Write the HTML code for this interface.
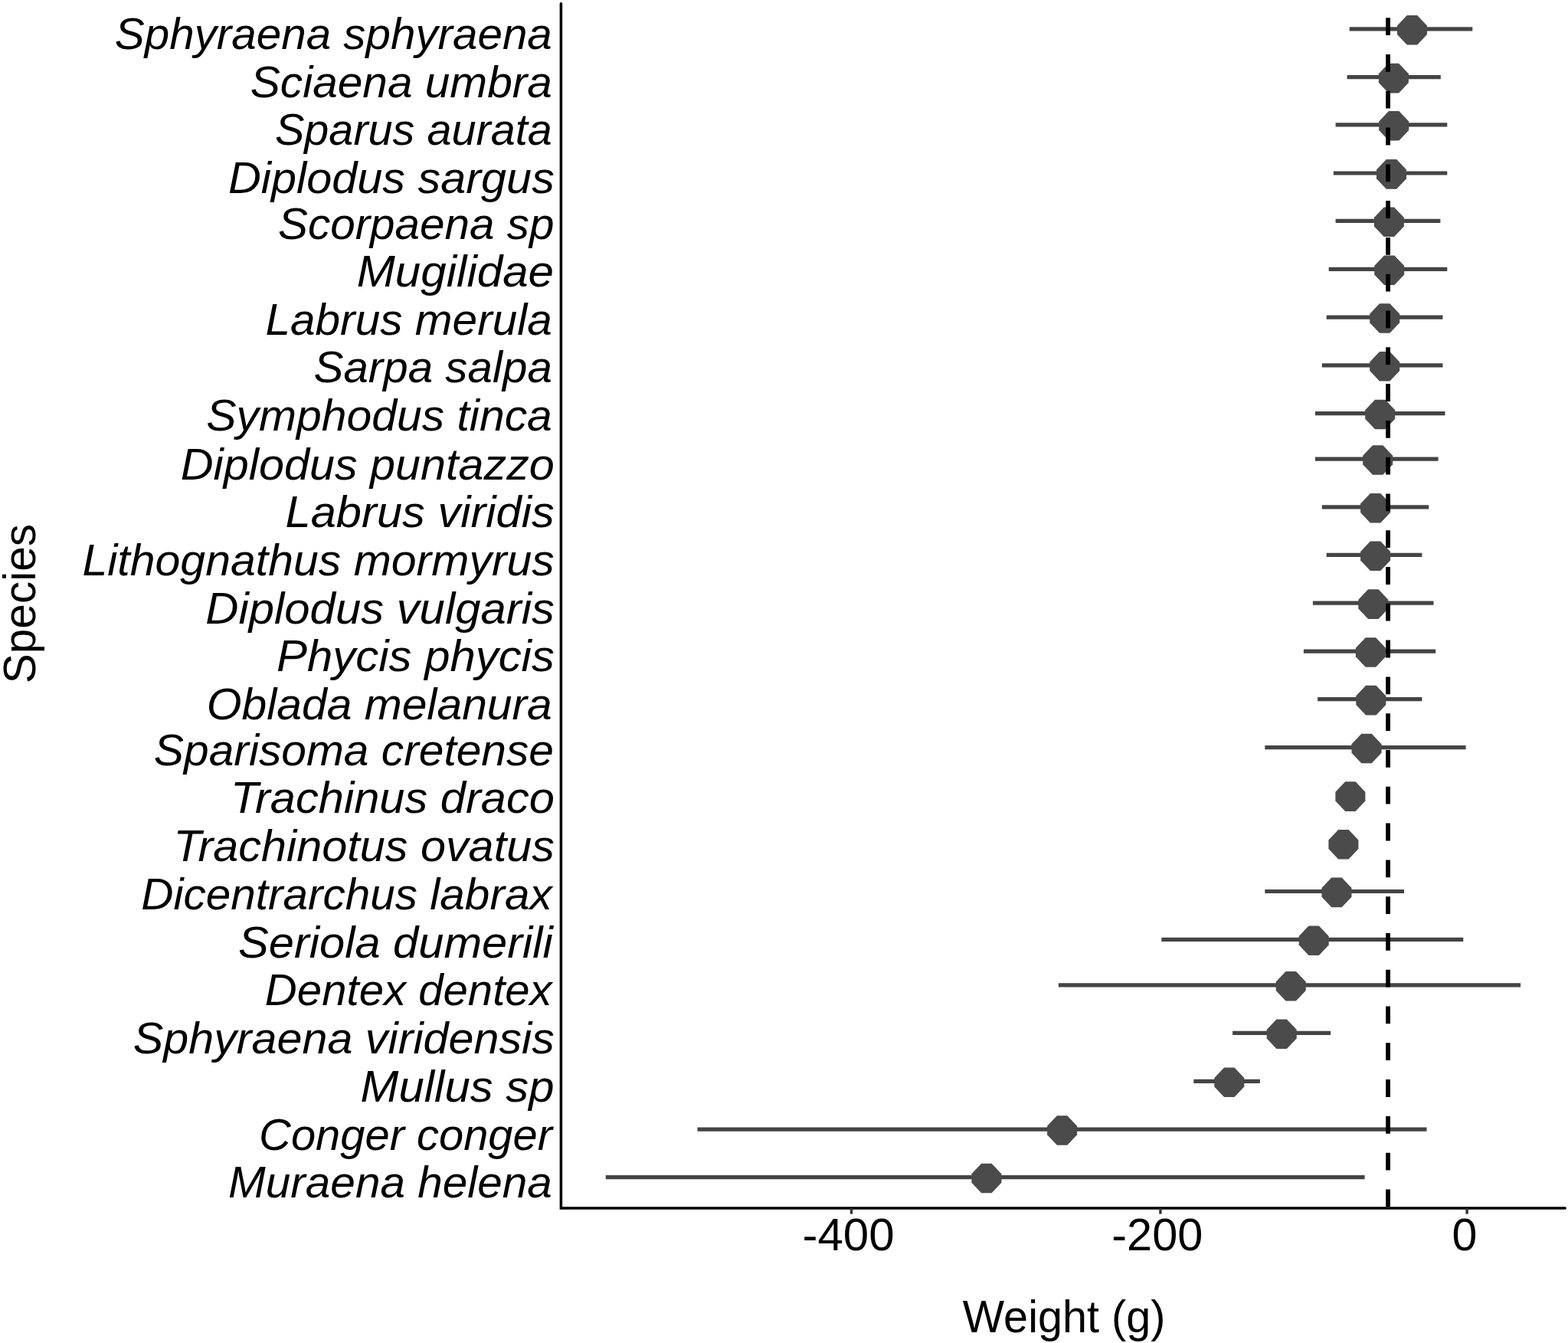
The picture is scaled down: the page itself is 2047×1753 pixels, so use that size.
<!DOCTYPE html><html><head><meta charset="utf-8"><title>Weight by species</title><style>html,body{margin:0;padding:0;background:#fff;overflow:hidden;}svg{display:block;}.lab{font-family:"Liberation Sans",Arial,sans-serif;font-style:italic;font-size:57.60px;fill:#000;}.ax{font-family:"Liberation Sans",Arial,sans-serif;font-size:58.50px;fill:#000;}</style></head><body>
<svg width="2047" height="1753" viewBox="0 0 2047 1753">
<rect width="2047" height="1753" fill="#fff"/>
<text id="lab0" class="lab" x="720.83" y="64" text-anchor="end" textLength="570.99" lengthAdjust="spacingAndGlyphs">Sphyraena sphyraena</text>
<text id="lab1" class="lab" x="720.83" y="126.8" text-anchor="end" textLength="394.05" lengthAdjust="spacingAndGlyphs">Sciaena umbra</text>
<text id="lab2" class="lab" x="720.80" y="189.3" text-anchor="end" textLength="361.90" lengthAdjust="spacingAndGlyphs">Sparus aurata</text>
<text id="lab3" class="lab" x="723.86" y="251.7" text-anchor="end" textLength="425.91" lengthAdjust="spacingAndGlyphs">Diplodus sargus</text>
<text id="lab4" class="lab" x="723.53" y="311.7" text-anchor="end" textLength="360.56" lengthAdjust="spacingAndGlyphs">Scorpaena sp</text>
<text id="lab5" class="lab" x="723.09" y="374.4" text-anchor="end" textLength="257.39" lengthAdjust="spacingAndGlyphs">Mugilidae</text>
<text id="lab6" class="lab" x="720.83" y="437.1" text-anchor="end" textLength="374.43" lengthAdjust="spacingAndGlyphs">Labrus merula</text>
<text id="lab7" class="lab" x="720.83" y="499.4" text-anchor="end" textLength="311.33" lengthAdjust="spacingAndGlyphs">Sarpa salpa</text>
<text id="lab8" class="lab" x="720.84" y="561.7" text-anchor="end" textLength="451.58" lengthAdjust="spacingAndGlyphs">Symphodus tinca</text>
<text id="lab9" class="lab" x="723.86" y="625.5" text-anchor="end" textLength="488.08" lengthAdjust="spacingAndGlyphs">Diplodus puntazzo</text>
<text id="lab10" class="lab" x="723.87" y="687.8" text-anchor="end" textLength="351.35" lengthAdjust="spacingAndGlyphs">Labrus viridis</text>
<text id="lab11" class="lab" x="723.85" y="750.8" text-anchor="end" textLength="616.40" lengthAdjust="spacingAndGlyphs">Lithognathus mormyrus</text>
<text id="lab12" class="lab" x="723.88" y="813.5" text-anchor="end" textLength="455.60" lengthAdjust="spacingAndGlyphs">Diplodus vulgaris</text>
<text id="lab13" class="lab" x="723.88" y="876.1" text-anchor="end" textLength="362.75" lengthAdjust="spacingAndGlyphs">Phycis phycis</text>
<text id="lab14" class="lab" x="720.84" y="939.3" text-anchor="end" textLength="451.13" lengthAdjust="spacingAndGlyphs">Oblada melanura</text>
<text id="lab15" class="lab" x="723.04" y="998.7" text-anchor="end" textLength="522.17" lengthAdjust="spacingAndGlyphs">Sparisoma cretense</text>
<text id="lab16" class="lab" x="723.87" y="1061.3" text-anchor="end" textLength="422.84" lengthAdjust="spacingAndGlyphs">Trachinus draco</text>
<text id="lab17" class="lab" x="723.86" y="1124" text-anchor="end" textLength="497.25" lengthAdjust="spacingAndGlyphs">Trachinotus ovatus</text>
<text id="lab18" class="lab" x="720.68" y="1186.6" text-anchor="end" textLength="536.49" lengthAdjust="spacingAndGlyphs">Dicentrarchus labrax</text>
<text id="lab19" class="lab" x="721.77" y="1250.1" text-anchor="end" textLength="410.75" lengthAdjust="spacingAndGlyphs">Seriola dumerili</text>
<text id="lab20" class="lab" x="720.69" y="1312" text-anchor="end" textLength="374.83" lengthAdjust="spacingAndGlyphs">Dentex dentex</text>
<text id="lab21" class="lab" x="723.86" y="1375.2" text-anchor="end" textLength="550.05" lengthAdjust="spacingAndGlyphs">Sphyraena viridensis</text>
<text id="lab22" class="lab" x="723.58" y="1437.7" text-anchor="end" textLength="252.94" lengthAdjust="spacingAndGlyphs">Mullus sp</text>
<text id="lab23" class="lab" x="720.99" y="1500.7" text-anchor="end" textLength="382.90" lengthAdjust="spacingAndGlyphs">Conger conger</text>
<text id="lab24" class="lab" x="720.83" y="1563.2" text-anchor="end" textLength="422.73" lengthAdjust="spacingAndGlyphs">Muraena helena</text>
<line x1="1761.7" y1="37.9" x2="1922.3" y2="37.9" stroke="#444444" stroke-width="5.2"/>
<line x1="1758.6" y1="100.7" x2="1880.8" y2="100.7" stroke="#444444" stroke-width="5.2"/>
<line x1="1743.6" y1="162.9" x2="1889.3" y2="162.9" stroke="#444444" stroke-width="5.2"/>
<line x1="1740.9" y1="226.0" x2="1889.3" y2="226.0" stroke="#444444" stroke-width="5.2"/>
<line x1="1743.6" y1="288.3" x2="1880.4" y2="288.3" stroke="#444444" stroke-width="5.2"/>
<line x1="1734.7" y1="351.4" x2="1889.3" y2="351.4" stroke="#444444" stroke-width="5.2"/>
<line x1="1731.7" y1="414.1" x2="1883.5" y2="414.1" stroke="#444444" stroke-width="5.2"/>
<line x1="1725.8" y1="476.8" x2="1883.5" y2="476.8" stroke="#444444" stroke-width="5.2"/>
<line x1="1716.9" y1="539.6" x2="1886.5" y2="539.6" stroke="#444444" stroke-width="5.2"/>
<line x1="1716.9" y1="599.1" x2="1877.6" y2="599.1" stroke="#444444" stroke-width="5.2"/>
<line x1="1725.8" y1="661.9" x2="1865.3" y2="661.9" stroke="#444444" stroke-width="5.2"/>
<line x1="1731.7" y1="724.4" x2="1856.4" y2="724.4" stroke="#444444" stroke-width="5.2"/>
<line x1="1713.9" y1="787.2" x2="1871.5" y2="787.2" stroke="#444444" stroke-width="5.2"/>
<line x1="1701.9" y1="850.1" x2="1874.2" y2="850.1" stroke="#444444" stroke-width="5.2"/>
<line x1="1720.1" y1="912.7" x2="1856.4" y2="912.7" stroke="#444444" stroke-width="5.2"/>
<line x1="1651.3" y1="975.6" x2="1913.6" y2="975.6" stroke="#444444" stroke-width="5.2"/>
<line x1="1651.3" y1="1163.5" x2="1833" y2="1163.5" stroke="#444444" stroke-width="5.2"/>
<line x1="1516.3" y1="1226.3" x2="1910.3" y2="1226.3" stroke="#444444" stroke-width="5.2"/>
<line x1="1381.9" y1="1285.9" x2="1985.1" y2="1285.9" stroke="#444444" stroke-width="5.2"/>
<line x1="1609.1" y1="1348.4" x2="1737.1" y2="1348.4" stroke="#444444" stroke-width="5.2"/>
<line x1="1558.3" y1="1411.4" x2="1644.9" y2="1411.4" stroke="#444444" stroke-width="5.2"/>
<line x1="910.5" y1="1474.1" x2="1862.5" y2="1474.1" stroke="#444444" stroke-width="5.2"/>
<line x1="790.8" y1="1536.6" x2="1781.6" y2="1536.6" stroke="#444444" stroke-width="5.2"/>
<polygon points="1836.8,20.0 1850.2,20.0 1863.0,33.5 1863.0,45.1 1850.2,58.6 1836.8,58.6 1824.0,45.1 1824.0,33.5" fill="#4b4b4b"/>
<polygon points="1812.7,82.8 1826.1,82.8 1838.9,96.3 1838.9,107.9 1826.1,121.4 1812.7,121.4 1799.9,107.9 1799.9,96.3" fill="#4b4b4b"/>
<polygon points="1813.0,145.0 1826.4,145.0 1839.2,158.5 1839.2,170.1 1826.4,183.6 1813.0,183.6 1800.2,170.1 1800.2,158.5" fill="#4b4b4b"/>
<polygon points="1809.8,208.1 1823.2,208.1 1836.0,221.6 1836.0,233.2 1823.2,246.7 1809.8,246.7 1797.0,233.2 1797.0,221.6" fill="#4b4b4b"/>
<polygon points="1806.7,270.4 1820.1,270.4 1832.9,283.9 1832.9,295.5 1820.1,309.0 1806.7,309.0 1793.9,295.5 1793.9,283.9" fill="#4b4b4b"/>
<polygon points="1807.0,333.5 1820.4,333.5 1833.2,347.0 1833.2,358.6 1820.4,372.1 1807.0,372.1 1794.2,358.6 1794.2,347.0" fill="#4b4b4b"/>
<polygon points="1801.0,396.2 1814.4,396.2 1827.2,409.7 1827.2,421.3 1814.4,434.8 1801.0,434.8 1788.2,421.3 1788.2,409.7" fill="#4b4b4b"/>
<polygon points="1801.0,458.9 1814.4,458.9 1827.2,472.4 1827.2,484.0 1814.4,497.5 1801.0,497.5 1788.2,484.0 1788.2,472.4" fill="#4b4b4b"/>
<polygon points="1795.0,521.7 1808.4,521.7 1821.2,535.2 1821.2,546.8 1808.4,560.3 1795.0,560.3 1782.2,546.8 1782.2,535.2" fill="#4b4b4b"/>
<polygon points="1792.0,581.2 1805.4,581.2 1818.2,594.7 1818.2,606.3 1805.4,619.8 1792.0,619.8 1779.2,606.3 1779.2,594.7" fill="#4b4b4b"/>
<polygon points="1788.9,644.0 1802.3,644.0 1815.1,657.5 1815.1,669.1 1802.3,682.6 1788.9,682.6 1776.1,669.1 1776.1,657.5" fill="#4b4b4b"/>
<polygon points="1788.9,706.5 1802.3,706.5 1815.1,720.0 1815.1,731.6 1802.3,745.1 1788.9,745.1 1776.1,731.6 1776.1,720.0" fill="#4b4b4b"/>
<polygon points="1786.1,769.3 1799.5,769.3 1812.3,782.8 1812.3,794.4 1799.5,807.9 1786.1,807.9 1773.3,794.4 1773.3,782.8" fill="#4b4b4b"/>
<polygon points="1782.7,832.2 1796.1,832.2 1808.9,845.7 1808.9,857.3 1796.1,870.8 1782.7,870.8 1769.9,857.3 1769.9,845.7" fill="#4b4b4b"/>
<polygon points="1783.1,894.8 1796.5,894.8 1809.3,908.3 1809.3,919.9 1796.5,933.4 1783.1,933.4 1770.3,919.9 1770.3,908.3" fill="#4b4b4b"/>
<polygon points="1777.3,957.7 1790.7,957.7 1803.5,971.2 1803.5,982.8 1790.7,996.3 1777.3,996.3 1764.5,982.8 1764.5,971.2" fill="#4b4b4b"/>
<polygon points="1756.2,1020.3 1769.6,1020.3 1782.4,1033.8 1782.4,1045.4 1769.6,1058.9 1756.2,1058.9 1743.4,1045.4 1743.4,1033.8" fill="#4b4b4b"/>
<polygon points="1747.2,1082.9 1760.6,1082.9 1773.4,1096.4 1773.4,1108.0 1760.6,1121.5 1747.2,1121.5 1734.4,1108.0 1734.4,1096.4" fill="#4b4b4b"/>
<polygon points="1738.3,1145.6 1751.7,1145.6 1764.5,1159.1 1764.5,1170.7 1751.7,1184.2 1738.3,1184.2 1725.5,1170.7 1725.5,1159.1" fill="#4b4b4b"/>
<polygon points="1708.5,1208.4 1721.9,1208.4 1734.7,1221.9 1734.7,1233.5 1721.9,1247.0 1708.5,1247.0 1695.7,1233.5 1695.7,1221.9" fill="#4b4b4b"/>
<polygon points="1678.5,1268.0 1691.9,1268.0 1704.7,1281.5 1704.7,1293.1 1691.9,1306.6 1678.5,1306.6 1665.7,1293.1 1665.7,1281.5" fill="#4b4b4b"/>
<polygon points="1666.5,1330.5 1679.9,1330.5 1692.7,1344.0 1692.7,1355.6 1679.9,1369.1 1666.5,1369.1 1653.7,1355.6 1653.7,1344.0" fill="#4b4b4b"/>
<polygon points="1598.1,1393.5 1611.5,1393.5 1624.3,1407.0 1624.3,1418.6 1611.5,1432.1 1598.1,1432.1 1585.3,1418.6 1585.3,1407.0" fill="#4b4b4b"/>
<polygon points="1379.9,1456.2 1393.3,1456.2 1406.1,1469.7 1406.1,1481.3 1393.3,1494.8 1379.9,1494.8 1367.1,1481.3 1367.1,1469.7" fill="#4b4b4b"/>
<polygon points="1281.2,1518.7 1294.6,1518.7 1307.4,1532.2 1307.4,1543.8 1294.6,1557.3 1281.2,1557.3 1268.4,1543.8 1268.4,1532.2" fill="#4b4b4b"/>
<path d="M1812.1 23.2V46.0M1812.1 71.0V93.8M1812.1 118.8V141.6M1812.1 166.6V189.4M1812.1 214.4V237.2M1812.1 262.1V284.9M1812.1 309.9V332.7M1812.1 357.7V380.5M1812.1 405.5V428.3M1812.1 453.3V476.1M1812.1 501.1V523.9M1812.1 548.9V571.7M1812.1 596.7V619.5M1812.1 644.5V667.3M1812.1 692.3V715.1M1812.1 740.1V762.9M1812.1 787.8V810.6M1812.1 835.6V858.4M1812.1 883.4V906.2M1812.1 931.2V954.0M1812.1 979.0V1001.8M1812.1 1026.8V1049.6M1812.1 1074.6V1097.4M1812.1 1122.4V1145.2M1812.1 1170.2V1193.0M1812.1 1218.0V1240.8M1812.1 1265.7V1288.5M1812.1 1313.5V1336.3M1812.1 1361.3V1384.1M1812.1 1409.1V1431.9M1812.1 1456.9V1479.7M1812.1 1504.7V1527.5M1812.1 1552.5V1575.3" stroke="#000" stroke-width="5.8" fill="none"/>
<path d="M732.4 4.7V1576.9H2043.2" stroke="#000" stroke-width="3.5" fill="none" stroke-linecap="round" stroke-linejoin="miter"/>
<line x1="1111.5" y1="1577" x2="1111.5" y2="1584.6" stroke="#333" stroke-width="3.4"/>
<line x1="1514.9" y1="1577" x2="1514.9" y2="1584.6" stroke="#333" stroke-width="3.4"/>
<line x1="1915.1" y1="1577" x2="1915.1" y2="1584.6" stroke="#333" stroke-width="3.4"/>
<text id="tick0" class="ax" x="1107.54" y="1632" text-anchor="middle" textLength="120.13" lengthAdjust="spacingAndGlyphs">-400</text>
<text id="tick1" class="ax" x="1510.85" y="1632" text-anchor="middle" textLength="119.08" lengthAdjust="spacingAndGlyphs">-200</text>
<text id="tick2" class="ax" x="1911.85" y="1632" text-anchor="middle" textLength="32.91" lengthAdjust="spacingAndGlyphs">0</text>
<text id="xt" class="ax" x="1389.07" y="1739.4" text-anchor="middle" textLength="264.51" lengthAdjust="spacingAndGlyphs">Weight (g)</text>
<text id="yt" class="ax" transform="translate(45.9,787.3) rotate(-90)" x="-0.80" y="0" text-anchor="middle" textLength="208.33" lengthAdjust="spacingAndGlyphs">Species</text>
</svg></body></html>
